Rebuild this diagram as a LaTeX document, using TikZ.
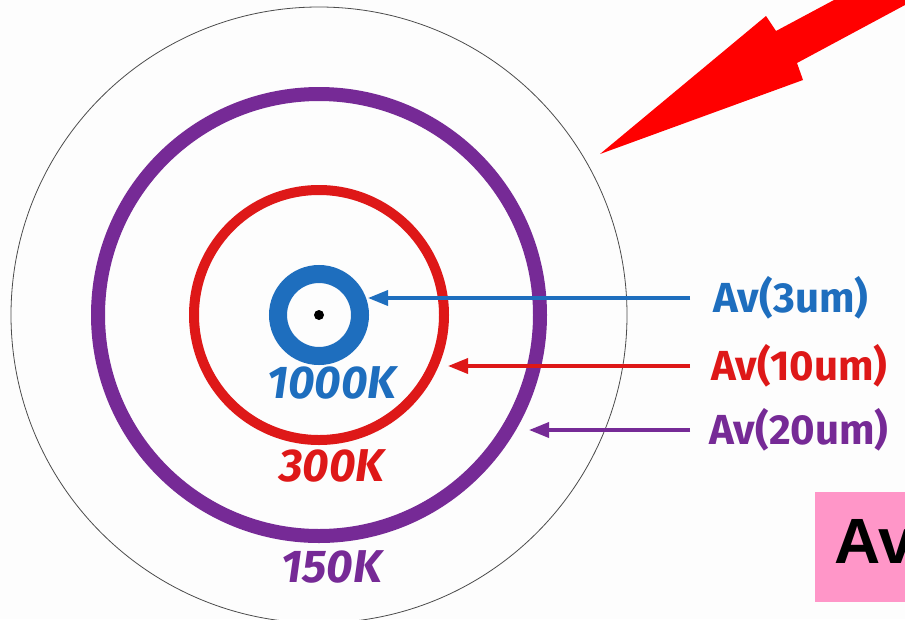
\documentclass[tikz,border=0pt]{standalone}
\usepackage{fontspec}
\setmainfont{Fira Sans}
\newfontfamily\arialfont{Liberation Sans}
\usetikzlibrary{arrows.meta}
\definecolor{cblue}{RGB}{30,110,190}
\definecolor{cred}{RGB}{222,24,24}
\definecolor{cpurple}{RGB}{118,42,150}
\definecolor{cpink}{RGB}{255,150,200}
\definecolor{bg}{RGB}{253,253,253}
\tikzset{
  lbl/.style={font=\fontsize{42}{42}\selectfont\bfseries, anchor=west, inner sep=0pt},
  klbl/.style={font=\fontsize{46}{46}\selectfont\bfseries\itshape, inner sep=0pt},
  pointer/.style={line width=3.5pt, -{Triangle[length=20pt,width=15pt]}},
}
\begin{document}
\begin{tikzpicture}[x=1pt,y=-1pt]
\fill[bg] (0,0) rectangle (905,619);
\useasboundingbox (0,0) rectangle (905,619);
\coordinate (c) at (319,315);
% outer thin circle
\draw[black!70, line width=0.8pt] (c) circle[radius=308];
% rings
\draw[cpurple, line width=14pt] (c) circle[radius=221];
\draw[cred, line width=10pt] (c) circle[radius=125];
\draw[cblue, line width=18pt] (c) circle[radius=41];
\fill[black] (c) circle[radius=5];
% ring target points
\coordinate (tblue) at (368,298);
\coordinate (tred) at (448,366);
\coordinate (tpurple) at (529,430);
% labels
\node[lbl, text=cblue] (l3) at (713,298) {Av(3um)};
\node[lbl, text=cred] (l10) at (711,366) {Av(10um)};
\node[lbl, text=cpurple] (l20) at (709,430) {Av(20um)};
\draw[pointer, cblue] (690,298) -- (tblue);
\draw[pointer, cred] (690,366) -- (tred);
\draw[pointer, cpurple] (690,430) -- (tpurple);
% ring labels
\node[klbl, text=cblue] (k1000) at (332,383) {1000K};
\node[klbl, text=cred] (k300) at (332,466) {300K};
\node[klbl, text=cpurple] (k150) at (332,567) {150K};
% pink box
\fill[cpink] (815,492) rectangle (910,602);
\node[font=\arialfont\fontsize{64}{64}\selectfont\bfseries, anchor=base west, inner sep=0pt] (av) at (834,563) {Av};
% big red arrow
\fill[red] (600,154) -- (766,16) -- (776,31) -- (834,0) -- (905,0) -- (905,5) -- (797,63) -- (803,80) -- cycle;
\end{tikzpicture}
\end{document}
